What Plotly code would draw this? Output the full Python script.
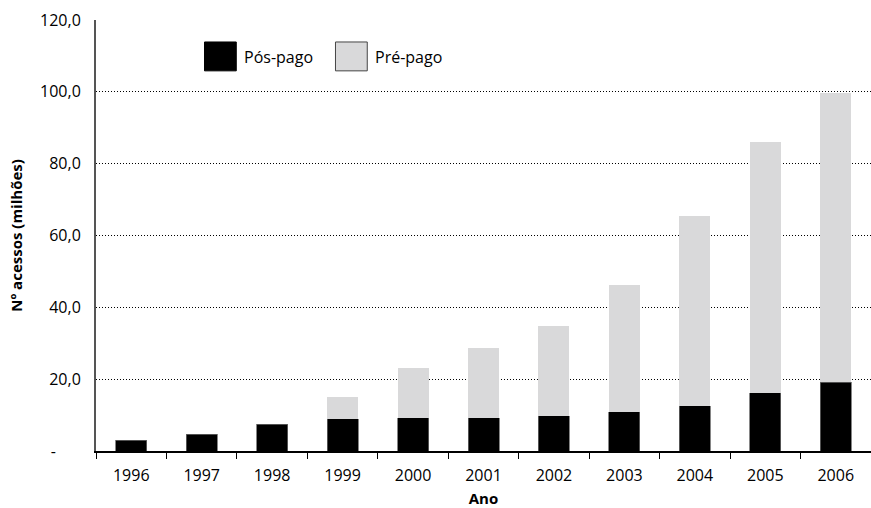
import plotly.graph_objects as go

anos = ["1996", "1997", "1998", "1999", "2000", "2001", "2002", "2003", "2004", "2005", "2006"]
pos_pago = [3.0, 4.6, 7.4, 9.0, 9.3, 9.2, 9.8, 10.9, 12.6, 16.2, 19.2]
total = [3.0, 4.6, 7.4, 15.0, 23.1, 28.7, 34.8, 46.2, 65.5, 86.1, 99.7]
pre_pago = [round(t - p, 1) for t, p in zip(total, pos_pago)]

y_ticks = [0, 20, 40, 60, 80, 100, 120]
y_ticktext = ["-\u00a0\u00a0\u00a0\u00a0\u00a0\u00a0", "20,0", "40,0", "60,0", "80,0", "100,0", "120,0"]

FONT = "Open Sans"

fig = go.Figure()
fig.add_trace(go.Bar(x=anos, y=pos_pago, name="Pós-pago",
                     marker=dict(color="#000000", line=dict(color="#666666", width=0.8)),
                     showlegend=False))
fig.add_trace(go.Bar(x=anos, y=pre_pago, name="Pré-pago",
                     marker=dict(color="#d9d9da", line=dict(width=0)),
                     showlegend=False))

# custom legend (paper coordinates)
leg = [("Pós-pago", "#000000", "#000000", 0.140), ("Pré-pago", "#d9d9da", "#444444", 0.309)]
for name, fill, border, x0 in leg:
    fig.add_shape(type="rect", xref="paper", yref="paper",
                  x0=x0, x1=x0 + 0.041, y0=0.882, y1=0.949,
                  fillcolor=fill, line=dict(color=border, width=1))
    fig.add_annotation(text=name, xref="paper", yref="paper", x=x0 + 0.048, y=0.915,
                       xanchor="left", yanchor="middle", showarrow=False,
                       font=dict(family=FONT, size=16, color="#000000"))

fig.update_layout(
    barmode="stack",
    bargap=0.56,
    width=871, height=508,
    margin=dict(l=96, r=0, t=20, b=57),
    paper_bgcolor="white", plot_bgcolor="white",
    font=dict(family=FONT, size=15, color="#000000"),
    xaxis=dict(
        title=dict(text="<b>Ano</b>", font=dict(family=FONT, size=15), standoff=12),
        showline=True, linecolor="#000000", linewidth=2,
        ticks="outside", tickson="boundaries", ticklen=6, tickcolor="#000000", tickwidth=1,
        tickfont=dict(family=FONT, size=16), ticklabelstandoff=9,
        showgrid=False,
    ),
    yaxis=dict(
        title=dict(text="<b>Nº acessos (milhões)</b>", font=dict(family=FONT, size=15), standoff=14),
        range=[0, 120],
        tickvals=y_ticks, ticktext=y_ticktext,
        showline=True, linecolor="#555555", linewidth=2,
        showgrid=True, gridcolor="#000000", gridwidth=1, griddash="1px,2px",
        zeroline=False,
        ticks="", ticklabelstandoff=10,
        tickfont=dict(family=FONT, size=16),
    ),
)

fig.write_html("out.html")
